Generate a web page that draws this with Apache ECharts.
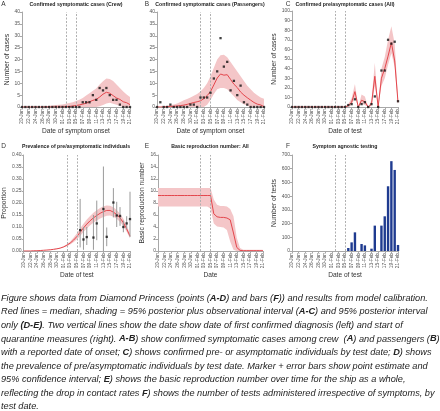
<!DOCTYPE html>
<html><head><meta charset="utf-8">
<script src="https://cdn.jsdelivr.net/npm/echarts@6/dist/echarts.min.js"></script>
<style>html,body{margin:0;padding:0;background:#fff}#c{width:440px;height:411px}</style>
</head><body><div id="c"></div>
<script>
// ---- categories ----
const dayLabels = ['20-Jan','21-Jan','22-Jan','23-Jan','24-Jan','25-Jan','26-Jan','27-Jan','28-Jan','29-Jan','30-Jan','31-Jan',
  '01-Feb','02-Feb','03-Feb','04-Feb','05-Feb','06-Feb','07-Feb','08-Feb','09-Feb','10-Feb','11-Feb','12-Feb','13-Feb',
  '14-Feb','15-Feb','16-Feb','17-Feb','18-Feb','19-Feb','20-Feb','21-Feb'];
const vLines = [13, 16];

// ---- A: crew ----
const crewObs = [0,0,0,0,0,0,0,0,0,0,0,0,0,0,0,0,0,0,2,2,2,5,3,8,7,8,5,3,3,1,0,0,0];
const crewMed = [0,0,0,0,0,0,0,0,0,0,0,0,0,0.1,0.2,0.4,0.6,0.9,1.2,1.6,2.2,2.8,3.2,4.2,5.4,6.2,5.8,4.8,3.8,3.2,2.2,1.8,1.0];
const crewUp  = [0,0,0,0,0,0,0,0.3,0.5,0.6,0.8,0.9,1.1,1.4,1.7,2.0,2.5,3.1,3.8,4.8,5.8,6.8,7.8,9.5,10.8,12,11.8,11,9.5,8,6.5,5.3,4.2];
const crewLo  = [0,0,0,0,0,0,0,0,0,0,0,0,0,0,0,0,0,0,0,0,0,0,0,0.3,0.8,1.5,1.8,1.4,0.9,0.4,0,0,0];

// ---- B: passengers ----
const passObs = [0,2,0,0,1,0,0,0,0,0,1,1,0,4,4,4,6,12,15,29,17,19,7,11,5,9,2,1,0,0,0,0,0];
const passMed = [0,0,0,0.1,0.2,0.3,0.4,0.6,0.8,1.1,1.5,1.9,2.2,2.6,3.5,4.8,6.5,9.3,12.2,13.9,13.4,13.6,11.6,9.6,8.2,6.3,5,3.9,2.9,1.9,1.2,0.9,0.1];
const passUp  = [0,0.1,0.3,0.5,0.8,1.1,1.5,2.1,2.8,3.4,4,4.7,5.5,6.5,8,10,13,16.5,20,21.8,22,21,19,17,15,13,11,9,7.5,6,5,4,3.5];
const passLo  = [0,0,0,0,0,0,0,0,0,0,0,0,0,0,0,1,3,5.5,7.5,8,8,7.5,6,4.5,3,2,1.2,0.5,0,0,0,0,0];

// ---- C: pre/asymptomatic positives by test date ----
const testPos = [0,0,0,0,0,0,0,0,0,0,0,0,0,0,0,0,0,2,3,8,0,3,5,0,3,11,0,38,38,70,66,68,6];
const cMed    = [0,0,0,0,0,0,0,0,0,0,0,0,0,0,0,0,0,1.5,5,16,0,7,5.5,0,3,32,0,30,40,53,67,48,5];
const cUp     = [0,0,0,0,0,0,0,0,0,0,0,0,0,0,0,0,0,3,9,24,0,13,11,0,7,46,0,40,52,70,84,66,9];
const cLo     = [0,0,0,0,0,0,0,0,0,0,0,0,0,0,0,0,0,0,2,10,0,3,2,0,1,22,0,22,30,44,56,42,2];

// ---- D: prevalence ----
const prevMed = [0,0,0,0.001,0.001,0.002,0.003,0.004,0.005,0.007,0.009,0.012,0.017,0.024,0.033,0.045,0.06,0.078,0.096,0.112,0.126,0.138,0.148,0.157,0.164,0.169,0.169,0.162,0.152,0.138,0.118,0.092,0.062];
const prevUp  = [0,0,0,0.001,0.001,0.002,0.003,0.004,0.006,0.008,0.01,0.014,0.019,0.028,0.04,0.055,0.073,0.094,0.114,0.131,0.146,0.159,0.17,0.179,0.186,0.19,0.189,0.182,0.171,0.155,0.134,0.105,0.072];
const prevLo  = [0,0,0,0.001,0.001,0.002,0.003,0.004,0.004,0.006,0.008,0.011,0.015,0.02,0.027,0.036,0.048,0.063,0.079,0.094,0.107,0.118,0.127,0.135,0.142,0.147,0.148,0.143,0.134,0.121,0.103,0.08,0.053];
const prevDay = [17,18,19,21,22,24,25,27,28,29,30,31,32];
const prevEst = [0.087,0.048,0.058,0.056,0.115,0.175,0.059,0.202,0.148,0.146,0.10,0.115,0.133];
const prevCiLo = [0.015,0.005,0.025,0.005,0.045,0.0,0.02,0.14,0.10,0.105,0.078,0.09,0.058];
const prevCiHi = [0.217,0.10,0.10,0.15,0.21,0.352,0.098,0.262,0.205,0.183,0.127,0.145,0.247];

// ---- E: basic reproduction number ----
const rMed = [9.25,9.25,9.25,9.25,9.25,9.25,9.25,9.25,9.25,9.25,9.25,9.25,9.25,9.25,9.25,9.25,9.25,6.2,5.7,5.6,5.6,5.5,5.2,3.0,0.6,0.1,0.05,0.05,0.05,0.05,0.05,0.05,0.05];
const rUp  = [10.5,10.5,10.5,10.5,10.5,10.5,10.5,10.5,10.5,10.5,10.5,10.5,10.5,10.5,10.5,10.5,10.5,8.6,7.7,7.5,7.5,7.4,7.0,5.8,2.2,0.5,0.2,0.2,0.2,0.2,0.2,0.2,0.2];
const rLo  = [7.4,7.4,7.4,7.4,7.4,7.4,7.4,7.4,7.4,7.4,7.4,7.4,7.4,7.4,7.4,7.4,7.1,4.6,4.1,4.0,3.9,3.5,1.6,0.2,0,0,0,0,0,0,0,0,0];

// ---- F: tests ----
const tests = [0,0,0,0,0,0,0,0,0,0,0,0,0,0,0,0,0,22,63,136,0,51,41,0,17,185,0,185,253,472,655,591,44];

const RED = '#e3464c', PINK = '#f4c6c8', AX = '#a8a8a8', LAB = '#555';
const FONT = 'Liberation Sans, Arial, sans-serif';

const grids = [
  {left:22, top:12, width:108, height:95},
  {left:157, top:12, width:107, height:95},
  {left:292, top:11, width:106, height:96},
  {left:22, top:155, width:108, height:96},
  {left:158, top:155, width:105, height:96},
  {left:292, top:155, width:106, height:96}
];
const xNames = ['Date of symptom onset','Date of symptom onset','Date of test','Date of test','Date','Date of test'];
const yCfg = [
  {min:0,max:40,interval:5,name:'Number of cases',gap:10.5},
  {min:0,max:40,interval:5,name:'',gap:10},
  {min:0,max:100,interval:10,name:'Number of cases',gap:8.5},
  {min:0,max:0.4,interval:0.05,name:'Proportion',gap:10.5,fmt:v=>v.toFixed(2)},
  {min:0,max:16,interval:2,name:'Basic reproduction number',gap:12.5},
  {min:0,max:700,interval:100,name:'Number of tests',gap:11.5}
];

const xAxis = grids.map((g,i)=>({
  type:'category', gridIndex:i, data:dayLabels, boundaryGap:false,
  axisLine:{lineStyle:{color:AX,width:1}},
  axisTick:{show:true, interval:1, length:2, lineStyle:{color:AX}},
  axisLabel:{interval:1, rotate:90, fontSize:4.8, color:LAB, margin:2, fontFamily:FONT},
  name:xNames[i], nameLocation:'middle', nameGap: i<3 ? 18 : 19.5,
  nameTextStyle:{fontSize:6.6, color:'#333', fontFamily:FONT}
}));
const yAxis = yCfg.map((c,i)=>({
  type:'value', gridIndex:i, min:c.min, max:c.max, interval:c.interval,
  axisLine:{show:true, lineStyle:{color:AX,width:1}},
  axisTick:{show:true, length:2, lineStyle:{color:AX}},
  splitLine:{show:false},
  axisLabel:{fontSize:5, color:LAB, margin:2, fontFamily:FONT, formatter:c.fmt||(v=>String(v))},
  name:c.name, nameLocation:'middle', nameGap:c.gap,
  nameTextStyle:{fontSize:6.8, color:'#333', fontFamily:FONT}
}));

const series = [];
function band(g, lo, up) {
  series.push({type:'line', xAxisIndex:g, yAxisIndex:g, data:lo, stack:'band'+g, symbol:'none',
    lineStyle:{opacity:0}, silent:true, z:1});
  series.push({type:'line', xAxisIndex:g, yAxisIndex:g, data:up.map((u,k)=>+(u-lo[k]).toFixed(4)),
    stack:'band'+g, symbol:'none', lineStyle:{opacity:0}, areaStyle:{color:PINK, opacity:1}, silent:true, z:1});
}
function med(g, m) {
  series.push({type:'line', xAxisIndex:g, yAxisIndex:g, data:m, symbol:'none', z:3,
    lineStyle:{color:RED, width:1},
    markLine:{silent:true, symbol:['none','none'], label:{show:false},
      lineStyle:{color:'#b0b0b0', type:[2,1.5], width:1},
      data:vLines.map(v=>({xAxis:v}))}});
}
function pts(g, d) {
  series.push({type:'scatter', xAxisIndex:g, yAxisIndex:g, data:d, symbol:'rect', symbolSize:2.3,
    itemStyle:{color:'#111'}, z:5});
}
band(0, crewLo, crewUp); med(0, crewMed); pts(0, crewObs);
band(1, passLo, passUp); med(1, passMed); pts(1, passObs);
band(2, cLo, cUp); med(2, cMed); pts(2, testPos);
band(3, prevLo, prevUp); med(3, prevMed);
series.push({type:'custom', xAxisIndex:3, yAxisIndex:3, z:4,
  data: prevDay.map((d,k)=>[d, prevCiLo[k], prevCiHi[k]]),
  encode:{x:0, y:[1,2]},
  renderItem:(params, api)=>{
    const x = api.value(0);
    const p1 = api.coord([x, api.value(1)]), p2 = api.coord([x, api.value(2)]);
    return {type:'line', shape:{x1:p1[0], y1:p1[1], x2:p2[0], y2:p2[1]}, style:{stroke:'#9a9a9a', lineWidth:1}};
  }});
pts(3, prevDay.map((d,k)=>[d, prevEst[k]]));
band(4, rLo, rUp); med(4, rMed);
series.push({type:'bar', xAxisIndex:5, yAxisIndex:5, data:tests, barWidth:2.4, itemStyle:{color:'#1f3b90'}, z:3,
  markLine:{silent:true, symbol:['none','none'], label:{show:false},
    lineStyle:{color:'#b0b0b0', type:[2,1.5], width:1}, data:vLines.map(v=>({xAxis:v}))}});

// ---- texts ----
const titles = [
  ['Confirmed symptomatic cases (Crew)', 76, 4.5],
  ['Confirmed symptomatic cases (Passengers)', 210, 4.5],
  ['Confirmed pre/asymptomatic cases (All)', 345, 4.5],
  ['Prevalence of pre/asymptomatic individuals', 76, 146.5],
  ['Basic reproduction number: All', 210, 146.5],
  ['Symptom agnostic testing', 345, 146.5]
];
const letters = [['A',3.5,4],['B',147,4],['C',288,4],['D',3.5,146],['E',147,146],['F',288,146]];
const caption = [
  'Figure shows data from Diamond Princess (points ({b|A-D}) and bars ({b|F})) and results from model calibration.',
  'Red lines = median, shading = 95% posterior plus observational interval ({b|A-C}) and 95% posterior interval',
  'only {b|(D-E)}. Two vertical lines show the date show date of first confirmed diagnosis (left) and start of',
  'quarantine measures (right). {b|A-B}) show confirmed symptomatic cases among crew  ({b|A}) and passengers ({b|B})',
  'with a reported date of onset; {b|C}) shows confirmed pre- or asymptomatic individuals by test date; {b|D}) shows',
  'the prevalence of pre/asymptomatic individuals by test date. Marker + error bars show point estimate and',
  '95% confidence interval; {b|E}) shows the basic reproduction number over time for the ship as a whole,',
  'reflecting the drop in contact rates {b|F}) shows the number of tests administered irrespective of symptoms, by',
  'test date.'
];
const graphic = [];
titles.forEach(t=>graphic.push({type:'text', x:t[1], y:t[2], silent:true,
  style:{text:t[0], textAlign:'center', verticalAlign:'middle', fontSize:5.2, fontWeight:'bold', fontFamily:FONT, fill:'#222'}}));
letters.forEach(t=>graphic.push({type:'text', x:t[1], y:t[2], silent:true,
  style:{text:t[0], textAlign:'center', verticalAlign:'middle', fontSize:6.5, fontFamily:FONT, fill:'#333'}}));
caption.forEach((line,k)=>graphic.push({type:'text', x:1, y:298.3+13.55*k, silent:true,
  style:{text:line, textAlign:'left', verticalAlign:'middle', fontSize:9.2, fontStyle:'italic', fontFamily:FONT, fill:'#222',
    rich:{b:{fontSize:9.2, fontStyle:'italic', fontWeight:'bold', fontFamily:FONT, fill:'#222'}}}}));

const chart = echarts.init(document.getElementById('c'), null, {renderer:'canvas'});
chart.setOption({animation:false, backgroundColor:'#fff', grid:grids, xAxis, yAxis, series, graphic});
</script></body></html>
